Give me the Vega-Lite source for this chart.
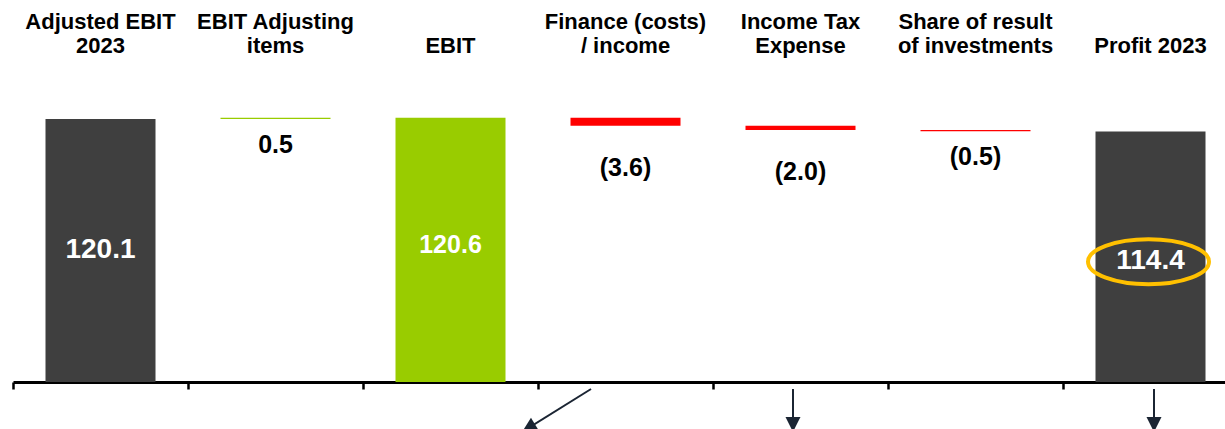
{
  "$schema": "https://vega.github.io/schema/vega-lite/v6.json",
  "width": 1212,
  "height": 322,
  "autosize": {"type": "none"},
  "padding": {"left": 13, "top": 60, "right": 0, "bottom": 47},
  "background": "white",
  "config": {"view": {"stroke": null}, "font": "Liberation Sans"},
  "datasets": {
    "steps": [
      {"cat": "Adjusted EBIT 2023", "start": 0, "end": 120.1, "label": "120.1", "kind": "start"},
      {"cat": "EBIT Adjusting items", "start": 120.1, "end": 120.6, "label": "0.5", "kind": "up"},
      {"cat": "EBIT", "start": 0, "end": 120.6, "label": "120.6", "kind": "subtotal"},
      {"cat": "Finance (costs) / income", "start": 120.6, "end": 117.0, "label": "(3.6)", "kind": "down"},
      {"cat": "Income Tax Expense", "start": 117.0, "end": 115.0, "label": "(2.0)", "kind": "down"},
      {"cat": "Share of result of investments", "start": 115.0, "end": 114.5, "label": "(0.5)", "kind": "down"},
      {"cat": "Profit 2023", "start": 0, "end": 114.4, "label": "114.4", "kind": "end"}
    ],
    "arrows": [
      {"x": 3.303, "y": -3.2, "x2": 2.909, "y2": -22.8},
      {"x": 4.457, "y": -3.2, "x2": 4.457, "y2": -22.8},
      {"x": 6.52, "y": -3.2, "x2": 6.52, "y2": -22.8}
    ]
  },
  "resolve": {"scale": {"x": "independent"}, "axis": {"x": "independent"}},
  "layer": [
    {
      "data": {"name": "steps"},
      "mark": {"type": "bar", "width": 110, "clip": false},
      "encoding": {
        "x": {
          "field": "cat", "type": "nominal", "sort": null,
          "scale": {"domain": ["Adjusted EBIT 2023", "EBIT Adjusting items", "EBIT", "Finance (costs) / income", "Income Tax Expense", "Share of result of investments", "Profit 2023"], "range": [0, 1225], "paddingInner": 0, "paddingOuter": 0},
          "axis": {
            "orient": "top", "title": null, "domain": false, "ticks": false, "grid": false,
            "labelPadding": 27, "labelFont": "Liberation Sans", "labelFontSize": 22, "labelFontWeight": "bold",
            "labelColor": "#000000", "labelLineHeight": 24, "labelLimit": 0, "labelOverlap": false,
            "labelAngle": 0, "labelBaseline": "bottom", "labelAlign": "center", "labelFlush": false,
            "labelExpr": "datum.value == 'Adjusted EBIT 2023' ? ['Adjusted EBIT', '2023'] : datum.value == 'EBIT Adjusting items' ? ['EBIT Adjusting', 'items'] : datum.value == 'Finance (costs) / income' ? ['Finance (costs)', '/ income'] : datum.value == 'Income Tax Expense' ? ['Income Tax', 'Expense'] : datum.value == 'Share of result of investments' ? ['Share of result', 'of investments'] : ['', datum.value]"
          }
        },
        "y": {"field": "start", "type": "quantitative", "scale": {"domain": [0, 147], "nice": false, "zero": false}, "axis": null},
        "y2": {"field": "end"},
        "color": {
          "field": "kind", "type": "nominal", "legend": null,
          "scale": {"domain": ["start", "up", "subtotal", "down", "end"], "range": ["#3F3F3F", "#99CC00", "#99CC00", "#FF0000", "#3F3F3F"]}
        }
      }
    },
    {
      "data": {"name": "steps"},
      "transform": [{"filter": "datum.kind == 'start'"}, {"calculate": "datum.end / 2", "as": "mid"}],
      "mark": {"type": "text", "font": "Liberation Sans", "fontSize": 28, "fontWeight": "bold", "color": "#FFFFFF", "baseline": "middle", "align": "center"},
      "encoding": {
        "x": {
          "field": "cat", "type": "nominal", "sort": null,
          "scale": {"domain": ["Adjusted EBIT 2023", "EBIT Adjusting items", "EBIT", "Finance (costs) / income", "Income Tax Expense", "Share of result of investments", "Profit 2023"], "range": [0, 1225], "paddingInner": 0, "paddingOuter": 0},
          "axis": {
            "orient": "bottom", "title": null, "labels": false, "grid": false,
            "domain": true, "domainColor": "#000000", "domainWidth": 3,
            "ticks": true, "tickBand": "extent", "tickColor": "#000000", "tickWidth": 2.5, "tickSize": 7
          }
        },
        "y": {"field": "mid", "type": "quantitative", "axis": null},
        "text": {"field": "label"}
      }
    },
    {
      "data": {"name": "steps"},
      "transform": [{"filter": "datum.kind == 'subtotal'"}, {"calculate": "datum.end / 2", "as": "mid"}],
      "mark": {"type": "text", "font": "Liberation Sans", "fontSize": 25, "fontWeight": "bold", "color": "#FFFFFF", "baseline": "middle", "align": "center", "dy": -5},
      "encoding": {
        "x": {
          "field": "cat", "type": "nominal", "sort": null,
          "scale": {"domain": ["Adjusted EBIT 2023", "EBIT Adjusting items", "EBIT", "Finance (costs) / income", "Income Tax Expense", "Share of result of investments", "Profit 2023"], "range": [0, 1225], "paddingInner": 0, "paddingOuter": 0},
          "axis": null
        },
        "y": {"field": "mid", "type": "quantitative", "axis": null},
        "text": {"field": "label"}
      }
    },
    {
      "data": {"name": "steps"},
      "transform": [{"filter": "datum.kind == 'end'"}, {"calculate": "datum.end / 2", "as": "mid"}],
      "mark": {"type": "point", "shape": "M-1,0A1,0.372,0,1,1,1,0A1,0.372,0,1,1,-1,0Z", "size": 14641, "filled": false, "stroke": "#FFC000", "strokeWidth": 4, "opacity": 1, "yOffset": 5, "xOffset": -2},
      "encoding": {
        "x": {
          "field": "cat", "type": "nominal", "sort": null,
          "scale": {"domain": ["Adjusted EBIT 2023", "EBIT Adjusting items", "EBIT", "Finance (costs) / income", "Income Tax Expense", "Share of result of investments", "Profit 2023"], "range": [0, 1225], "paddingInner": 0, "paddingOuter": 0},
          "axis": null
        },
        "y": {"field": "mid", "type": "quantitative", "axis": null}
      }
    },
    {
      "data": {"name": "steps"},
      "transform": [{"filter": "datum.kind == 'end'"}, {"calculate": "datum.end / 2", "as": "mid"}],
      "mark": {"type": "text", "font": "Liberation Sans", "fontSize": 28, "fontWeight": "bold", "color": "#FFFFFF", "baseline": "middle", "align": "center", "dy": 4},
      "encoding": {
        "x": {
          "field": "cat", "type": "nominal", "sort": null,
          "scale": {"domain": ["Adjusted EBIT 2023", "EBIT Adjusting items", "EBIT", "Finance (costs) / income", "Income Tax Expense", "Share of result of investments", "Profit 2023"], "range": [0, 1225], "paddingInner": 0, "paddingOuter": 0},
          "axis": null
        },
        "y": {"field": "mid", "type": "quantitative", "axis": null},
        "text": {"field": "label"}
      }
    },
    {
      "data": {"name": "steps"},
      "transform": [{"filter": "(datum.kind == 'up' || datum.kind == 'down') && abs(datum.end - datum.start) < 1"}, {"calculate": "min(datum.start, datum.end)", "as": "lo"}],
      "mark": {"type": "text", "font": "Liberation Sans", "fontSize": 25, "fontWeight": "bold", "color": "#000000", "baseline": "middle", "align": "center", "dy": 26},
      "encoding": {
        "x": {
          "field": "cat", "type": "nominal", "sort": null,
          "scale": {"domain": ["Adjusted EBIT 2023", "EBIT Adjusting items", "EBIT", "Finance (costs) / income", "Income Tax Expense", "Share of result of investments", "Profit 2023"], "range": [0, 1225], "paddingInner": 0, "paddingOuter": 0},
          "axis": null
        },
        "y": {"field": "lo", "type": "quantitative", "axis": null},
        "text": {"field": "label"}
      }
    },
    {
      "data": {"name": "steps"},
      "transform": [{"filter": "(datum.kind == 'up' || datum.kind == 'down') && abs(datum.end - datum.start) >= 1"}, {"calculate": "min(datum.start, datum.end)", "as": "lo"}],
      "mark": {"type": "text", "font": "Liberation Sans", "fontSize": 25, "fontWeight": "bold", "color": "#000000", "baseline": "middle", "align": "center", "dy": 42},
      "encoding": {
        "x": {
          "field": "cat", "type": "nominal", "sort": null,
          "scale": {"domain": ["Adjusted EBIT 2023", "EBIT Adjusting items", "EBIT", "Finance (costs) / income", "Income Tax Expense", "Share of result of investments", "Profit 2023"], "range": [0, 1225], "paddingInner": 0, "paddingOuter": 0},
          "axis": null
        },
        "y": {"field": "lo", "type": "quantitative", "axis": null},
        "text": {"field": "label"}
      }
    },
    {
      "data": {"name": "arrows"},
      "mark": {"type": "rule", "color": "#1B2533", "strokeWidth": 2, "clip": false},
      "encoding": {
        "x": {"field": "x", "type": "quantitative", "scale": {"domain": [0, 7], "range": [0, 1225], "nice": false, "zero": false}, "axis": null},
        "x2": {"field": "x2"},
        "y": {"field": "y", "type": "quantitative", "axis": null},
        "y2": {"field": "y2"}
      }
    },
    {
      "data": {"name": "arrows"},
      "transform": [{"filter": "datum.x == datum.x2"}],
      "mark": {"type": "point", "shape": "M0,0L-0.5,-1L0.5,-1Z", "size": 900, "filled": true, "color": "#1B2533", "opacity": 1, "clip": false},
      "encoding": {
        "x": {"field": "x2", "type": "quantitative", "scale": {"domain": [0, 7], "range": [0, 1225], "nice": false, "zero": false}, "axis": null},
        "y": {"field": "y2", "type": "quantitative", "axis": null}
      }
    },
    {
      "data": {"name": "arrows"},
      "transform": [{"filter": "datum.x != datum.x2"}],
      "mark": {"type": "point", "shape": "M0,0L-0.5,-1L0.5,-1Z", "size": 900, "filled": true, "color": "#1B2533", "opacity": 1, "angle": 58.6, "clip": false},
      "encoding": {
        "x": {"field": "x2", "type": "quantitative", "scale": {"domain": [0, 7], "range": [0, 1225], "nice": false, "zero": false}, "axis": null},
        "y": {"field": "y2", "type": "quantitative", "axis": null}
      }
    }
  ]
}
